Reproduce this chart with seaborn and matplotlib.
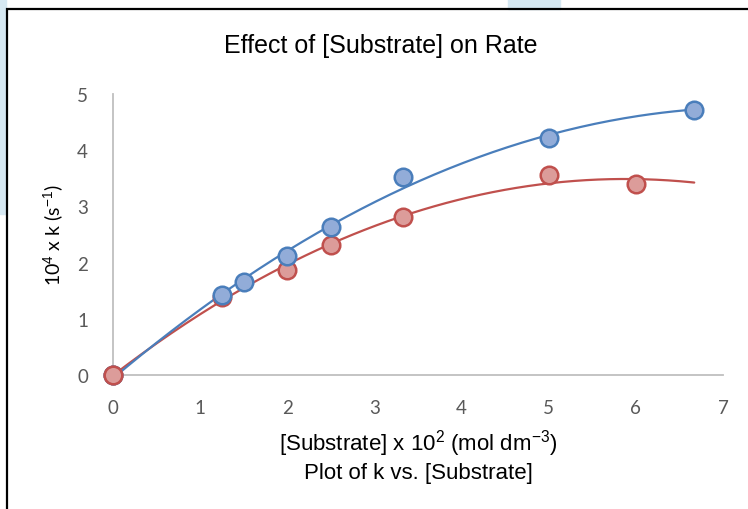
import numpy as np
import pandas as pd
import matplotlib
matplotlib.use("Agg")
import matplotlib.pyplot as plt
import seaborn as sns
from matplotlib.patches import Rectangle

# [Substrate] x 10^2 (mol dm^-3) and 10^4 x k (s^-1)
blue_x = [0, 1.25, 1.5, 2.0, 2.5, 3.33, 5.0, 6.67]
blue_k = [0, 1.42, 1.65, 2.12, 2.63, 3.52, 4.22, 4.72]
red_x = [0, 1.25, 2.0, 2.5, 3.33, 5.0, 6.0]
red_k = [0, 1.39, 1.87, 2.31, 2.81, 3.56, 3.40]

x_ticks = [0, 1, 2, 3, 4, 5, 6, 7]
y_ticks = [0, 1, 2, 3, 4, 5]

BLUE_EDGE, BLUE_FILL = "#4a7ebb", "#92acd8"
RED_EDGE, RED_FILL = "#c0504d", "#dc9c9a"

sns.set_theme(style="white")
plt.rcParams["font.family"] = ["Liberation Sans", "DejaVu Sans"]
plt.rcParams["mathtext.fontset"] = "custom"
plt.rcParams["mathtext.rm"] = "Liberation Sans"
plt.rcParams["mathtext.it"] = "Liberation Sans"

fig = plt.figure(figsize=(7.48, 5.10), dpi=100)
fig.patch.set_facecolor("white")

# faint background watermark outside the chart frame, and the frame itself
fig.patches.append(Rectangle((0, 1 - 215 / 510), 6 / 748, 215 / 510,
                             transform=fig.transFigure, color="#d6e8f2", zorder=0))
fig.patches.append(Rectangle((508 / 748, 1 - 10 / 510), 52 / 748, 10 / 510,
                             transform=fig.transFigure, color="#d6e8f2", zorder=0))
fig.patches.append(Rectangle((7 / 748, -0.2), 1.3, 1.2 - 10 / 510,
                             transform=fig.transFigure, fill=False,
                             edgecolor="black", linewidth=1.6, zorder=1))

ax = fig.add_axes([113 / 748, 1 - 376 / 510, (723 - 113) / 748, (376 - 95) / 510])


def draw_series(xs, ks, edge, fill):
    # second order polynomial trendline like the spreadsheet one
    coef = np.polyfit(xs, ks, 2)
    grid = np.linspace(0, max(blue_x), 200)
    trend = pd.DataFrame({"x": grid, "k": np.polyval(coef, grid)})
    sns.lineplot(data=trend, x="x", y="k", color=edge, linewidth=1.6, ax=ax, zorder=2)
    pts = pd.DataFrame({"x": xs, "k": ks})
    sns.scatterplot(data=pts, x="x", y="k", s=160, color=fill, edgecolor=edge,
                    linewidth=1.8, ax=ax, zorder=3, clip_on=False)


draw_series(red_x, red_k, RED_EDGE, RED_FILL)
draw_series(blue_x, blue_k, BLUE_EDGE, BLUE_FILL)
# the red origin point sits on top in the reference
ax.scatter([red_x[0]], [red_k[0]], s=160, color=RED_FILL, edgecolor=RED_EDGE,
           linewidth=1.8, zorder=4, clip_on=False)

ax.set_xlim(0, 7)
ax.set_ylim(0, 5)
ax.set_xticks(x_ticks)
ax.set_yticks(y_ticks)
ax.set_xticklabels([str(t) for t in x_ticks], family=["Lato", "DejaVu Sans"],
                   fontsize=13.5, color="#595959")
ax.set_yticklabels([str(t) for t in y_ticks], family=["Lato", "DejaVu Sans"],
                   fontsize=13.5, color="#595959")
ax.tick_params(axis="x", length=0, pad=17)
ax.tick_params(axis="y", length=0, pad=18)

for side in ["top", "right"]:
    ax.spines[side].set_visible(False)
for side in ["left", "bottom"]:
    ax.spines[side].set_color("#bfbfbf")
    ax.spines[side].set_linewidth(1.3)
ax.set_facecolor("white")

fig.text(381 / 748, 1 - 46 / 510, "Effect of [Substrate] on Rate",
         fontsize=18, color="black", ha="center", va="center")
ax.set_xlabel("[Substrate] x 10$^2$ (mol dm$^{-3}$)\nPlot of k vs. [Substrate]",
              fontsize=16, color="black", labelpad=8, linespacing=1.25)
ax.set_ylabel("10$^4$ x k (s$^{-1}$)", fontsize=14, color="black", labelpad=8,
              family=["Lato", "DejaVu Sans"])

fig.savefig("out.png", dpi=100)
